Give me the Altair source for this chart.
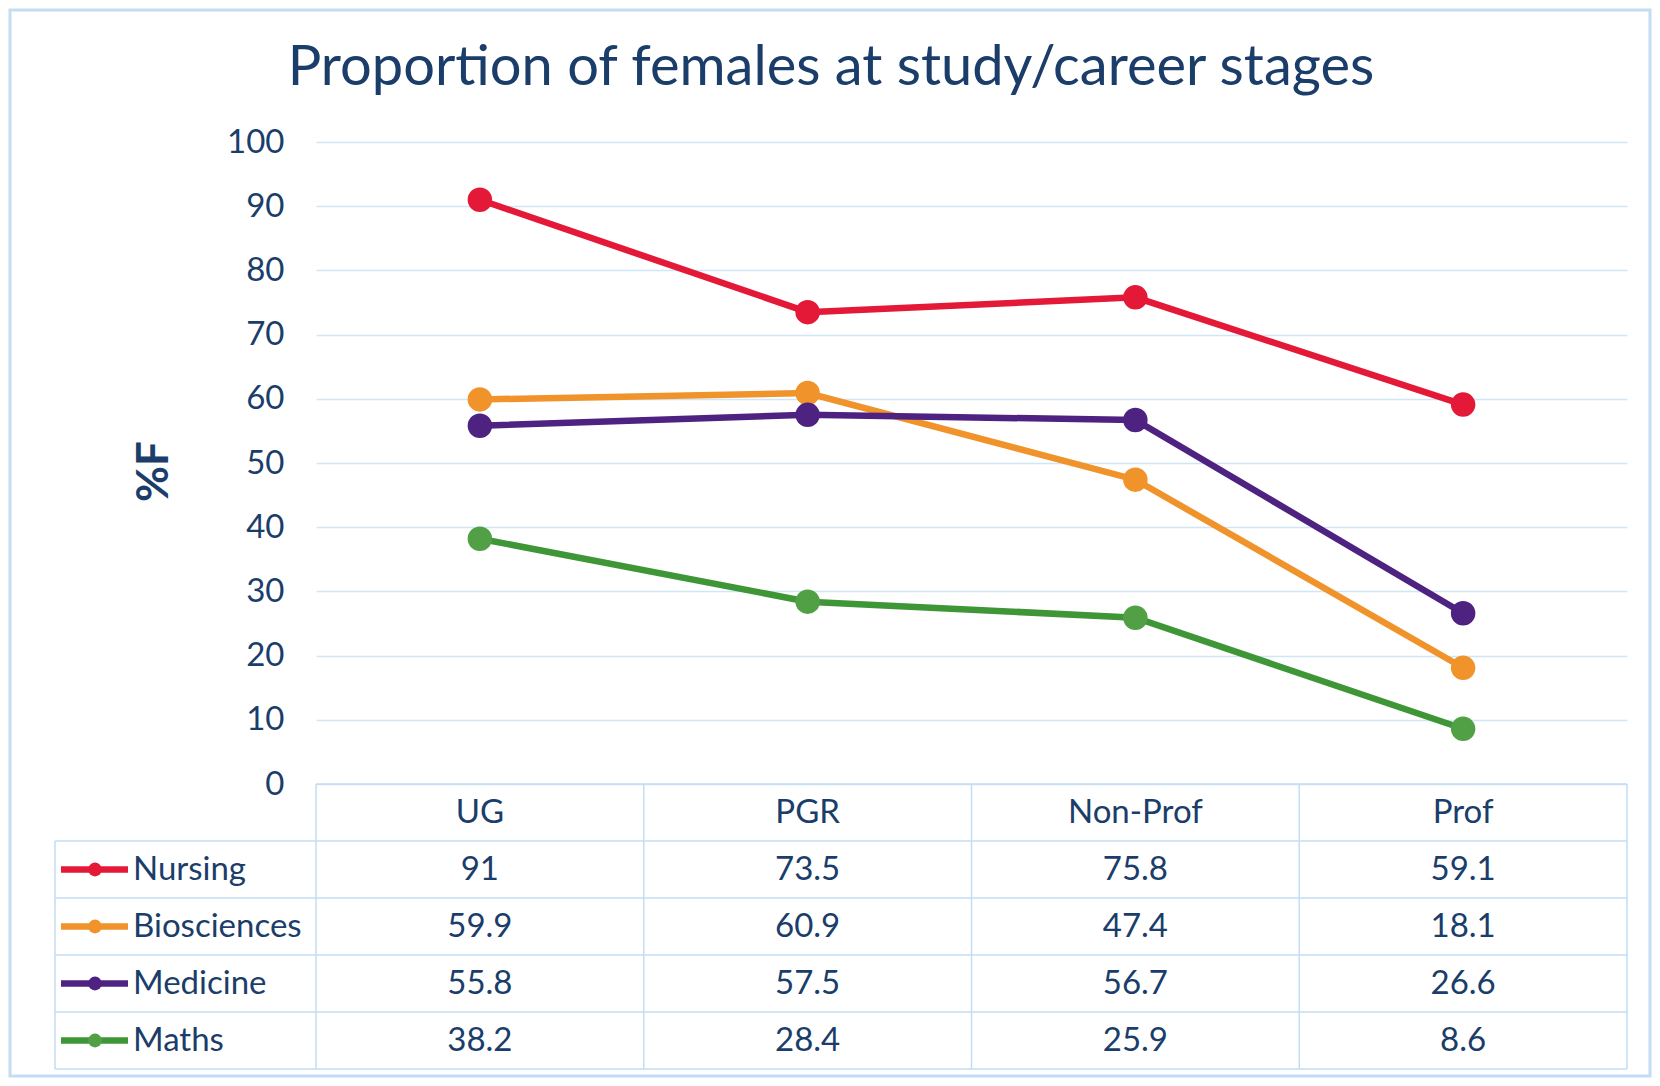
import altair as alt
import pandas as pd

stages = ["UG", "PGR", "Non-Prof", "Prof"]
series = ["Nursing", "Biosciences", "Medicine", "Maths"]
nursing = [91, 73.5, 75.8, 59.1]
biosciences = [59.9, 60.9, 47.4, 18.1]
medicine = [55.8, 57.5, 56.7, 26.6]
maths = [38.2, 28.4, 25.9, 8.6]
line_colors = ["#E31937", "#F0932B", "#4E2280", "#3E9636"]
marker_colors = ["#E31937", "#F0932B", "#4E2280", "#52A046"]
title_text = "Proportion of females at study/career stages"
y_title = "%F"

values = {"Nursing": nursing, "Biosciences": biosciences, "Medicine": medicine, "Maths": maths}
recs = []
for s in series:
    for st, v in zip(stages, values[s]):
        recs.append({"series": s, "stage": st, "value": v, "row": s, "label": f"{v:g}"})
df = pd.DataFrame(recs)
hdr = pd.DataFrame({"stage": stages, "row": ["header"] * 4, "label": stages})
tbl = pd.concat([df[["stage", "row", "label"]], hdr], ignore_index=True)
rows_df = pd.DataFrame({"row": series, "series": series})

W = 1311
PH = 642
TH = 927
FONT = "Lato"
NAVY = "#1B3D6A"
GRID = "#CFE5F8"
BORDER = "#C3DDF3"
FS = 33

xs = alt.Scale(domain=stages, paddingInner=0, paddingOuter=0)
ys_line = alt.Scale(domain=[0, 100], range=[PH, 0], nice=False)
ys_tab = alt.Scale(domain=["header"] + series, range=[PH, TH], paddingInner=0, paddingOuter=0)
cs_line = alt.Scale(domain=series, range=line_colors)
cs_mark = alt.Scale(domain=series, range=marker_colors)


def X(bp):
    return alt.X("stage:N", scale=xs, axis=None, bandPosition=bp, sort=stages)


def TY(bp):
    return alt.Y("row:N", scale=ys_tab, axis=None, bandPosition=bp)


base = alt.Chart(df)

lines = base.mark_line(strokeWidth=6.5).encode(
    x=X(0.5),
    y=alt.Y(
        "value:Q",
        scale=ys_line,
        axis=alt.Axis(
            values=list(range(0, 101, 10)), grid=True, gridColor=GRID, gridWidth=1.5,
            domain=False, ticks=False, labelFontSize=FS, labelFont=FONT, labelColor=NAVY,
            labelPadding=32, title=y_title, titleFont=FONT, titleFontSize=44,
            titleFontWeight="bold", titleColor=NAVY, titleX=-162, titleY=PH / 2 + 8,
            titleAngle=270, titleBaseline="middle", titleAlign="center",
        ),
    ),
    color=alt.Color("series:N", scale=cs_line, legend=None),
    detail="series:N",
)

points = base.mark_circle(opacity=1).encode(
    x=X(0.5),
    y=alt.Y("value:Q", scale=ys_line, axis=None),
    color=alt.Color("series:N", scale=cs_mark, legend=None),
    size=alt.Size("series:N", scale=alt.Scale(domain=series, range=[600, 600, 840, 600]), legend=None),
)

cells = alt.Chart(tbl).mark_text(font=FONT, fontSize=FS, color=NAVY, baseline="middle").encode(
    x=X(0.5), y=TY(0.5), text="label:N"
)

row_labels = alt.Chart(rows_df).mark_text(font=FONT, fontSize=FS, color=NAVY, align="left", baseline="middle").encode(
    x=alt.value(-183), y=TY(0.5), text="series:N"
)
sw_lines = alt.Chart(rows_df).mark_rule(strokeWidth=6.5).encode(
    x=alt.value(-255), x2=alt.value(-188), y=TY(0.5),
    color=alt.Color("series:N", scale=cs_line, legend=None),
)
sw_dots = alt.Chart(rows_df).mark_circle(opacity=1, size=190).encode(
    x=alt.value(-221), y=TY(0.5),
    color=alt.Color("series:N", scale=cs_mark, legend=None),
)

h_tops = alt.Chart(rows_df).mark_rule(color=BORDER, strokeWidth=1.5).encode(
    x=alt.value(-261), x2=alt.value(W), y=TY(0)
)
h_bottom = alt.Chart(pd.DataFrame({"row": ["Maths"]})).mark_rule(color=BORDER, strokeWidth=1.5).encode(
    x=alt.value(-261), x2=alt.value(W), y=TY(1)
)
h_header = alt.Chart(pd.DataFrame({"row": ["header"]})).mark_rule(color=BORDER, strokeWidth=1.5).encode(
    x=alt.value(0), x2=alt.value(W), y=TY(0)
)
v_starts = alt.Chart(pd.DataFrame({"stage": stages, "row": ["header"] * 4})).mark_rule(
    color=BORDER, strokeWidth=1.5
).encode(x=X(0), y=TY(0), y2=alt.value(TH))
v_end = alt.Chart(pd.DataFrame({"stage": ["Prof"], "row": ["header"]})).mark_rule(
    color=BORDER, strokeWidth=1.5
).encode(x=X(1), y=TY(0), y2=alt.value(TH))
v_left = alt.Chart(pd.DataFrame({"row": ["Nursing"]})).mark_rule(color=BORDER, strokeWidth=1.5).encode(
    x=alt.value(-261), y=TY(0), y2=alt.value(TH)
)

title = alt.Chart(pd.DataFrame({"t": [title_text]})).mark_text(
    font=FONT, fontSize=56, color=NAVY, baseline="alphabetic", align="center"
).encode(x=alt.value(515), y=alt.value(-57), text="t:N")

frame = alt.Chart(pd.DataFrame({"a": [1]})).mark_rect(
    fill=None, stroke=BORDER, strokeWidth=3
).encode(x=alt.value(-306), x2=alt.value(W + 23), y=alt.value(-132), y2=alt.value(TH + 7))

chart = alt.layer(
    frame, h_tops, h_bottom, h_header, v_starts, v_end, v_left,
    lines, points, cells, row_labels, sw_lines, sw_dots, title,
).resolve_scale(y="independent", size="independent", color="independent").properties(
    width=W, height=TH,
    background="white",
    autosize=alt.AutoSizeParams(type="none"),
    padding={"left": 308, "top": 134, "right": 25, "bottom": 9},
).configure_view(strokeWidth=0, stroke="transparent")

chart.save("out.html", embed_options={"renderer": "svg", "actions": False})
